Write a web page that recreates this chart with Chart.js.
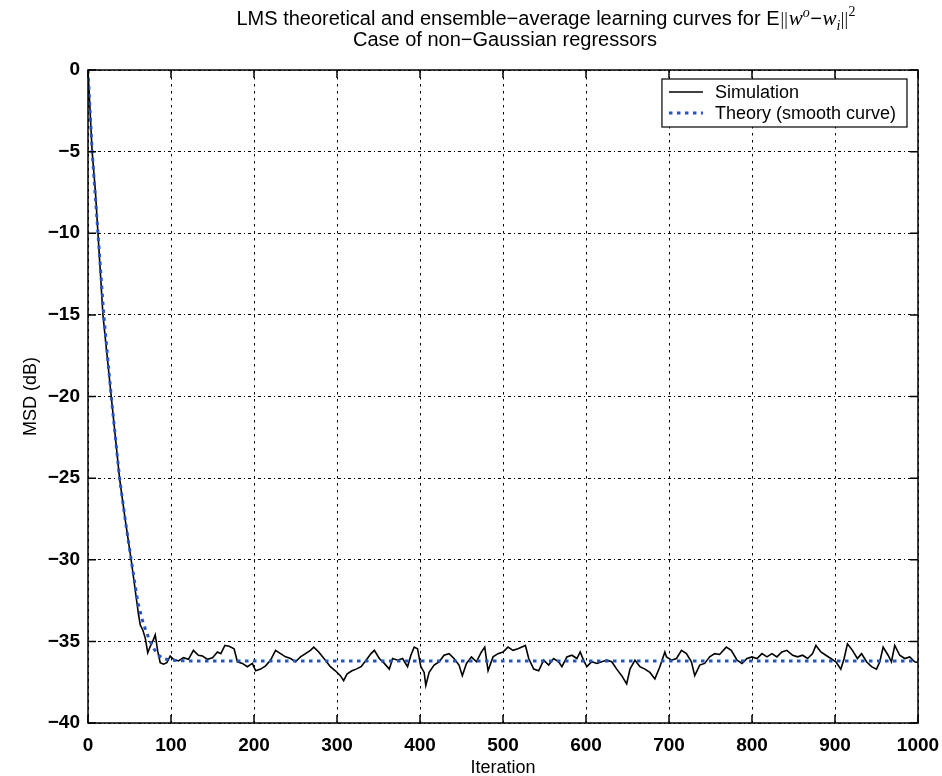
<!DOCTYPE html>
<html>
<head>
<meta charset="utf-8">
<script src="https://cdn.jsdelivr.net/npm/chart.js@4.4.1/dist/chart.umd.min.js"></script>
<style>
  html, body { margin: 0; padding: 0; background: #fff; }
</style>
</head>
<body>
<canvas id="lms" width="942" height="776"></canvas>
<script>
const simIter = [0, 3, 5, 9, 12, 15, 18, 23, 28, 33, 38, 45, 52, 57, 61, 63, 66, 69, 72, 75, 78, 81, 84, 87, 91, 95,
  99, 103, 109, 115, 121, 127, 133, 138, 144, 150, 156, 160, 165, 170, 176, 180, 186, 192, 198, 202, 208, 214, 220,
  226, 232, 238, 244, 250, 256, 262, 268, 272, 278, 286, 292, 298, 304, 308, 312, 318, 323, 329, 335, 341, 345, 351,
  357, 363, 367, 373, 379, 385, 389, 393, 397, 401, 405, 407, 411, 417, 423, 429, 435, 441, 447, 451, 456, 462, 468,
  474, 478, 482, 488, 494, 500, 506, 512, 518, 527, 531, 537, 543, 549, 555, 561, 567, 571, 577, 583, 589, 593, 597,
  601, 607, 613, 619, 625, 631, 637, 643, 649, 653, 659, 665, 671, 677, 683, 689, 695, 697, 703, 709, 715, 721, 727,
  731, 737, 743, 749, 755, 761, 769, 775, 782, 788, 794, 800, 806, 812, 818, 824, 830, 836, 842, 849, 855, 861, 867,
  873, 877, 883, 889, 895, 901, 907, 911, 915, 921, 927, 932, 938, 944, 950, 954, 958, 964, 968, 972, 978, 984, 990,
  996, 1000];
const simMsd = [0, -3, -5, -7.5, -10, -12.5, -15, -17.5, -20, -22.5, -25, -27.6, -30, -31.9, -33.4, -34.0, -34.3,
  -34.8, -35.7, -35.3, -35.0, -34.6, -35.6, -36.3, -36.4, -36.3,
  -35.9, -36.1, -36.2, -36.0, -36.1, -35.55, -35.85, -35.9, -36.1, -36.0, -35.65, -35.75, -35.25, -35.3, -35.45,
  -36.25, -36.35, -36.55, -36.35, -36.8, -36.7, -36.5, -36.15, -35.55, -35.75, -35.95, -36.05, -36.25, -35.95,
  -35.75, -35.55, -35.35, -35.65, -36.15, -36.55, -36.8, -37.1, -37.4, -37.0, -36.8, -36.7, -36.55, -36.15, -35.75,
  -35.55, -36.05, -36.35, -36.7, -36.05, -36.15, -36.05, -36.55, -35.85, -35.35, -35.45, -36.55, -36.9, -37.7,
  -36.9, -36.45, -36.25, -35.85, -35.75, -36.05, -36.45, -37.1, -36.35, -35.95, -36.25, -35.65, -35.35, -36.8,
  -35.95, -35.75, -35.65, -35.35, -35.55, -35.45, -35.25, -36.05, -36.7, -36.8, -36.15, -36.45, -36.05, -36.25,
  -36.55, -35.95, -35.85, -36.05, -35.65, -36.15, -36.55, -36.25, -36.35, -36.25, -36.15, -36.25, -36.7, -37.1,
  -37.6, -36.7, -36.15, -36.55, -36.7, -36.9, -37.3, -36.55, -35.65, -35.95, -36.15, -36.05, -35.55, -35.75,
  -36.25, -37.1, -36.45, -36.35, -35.95, -35.75, -35.8, -35.35, -35.55, -36.15, -36.35, -36.05, -35.95, -36.05,
  -35.75, -35.95, -35.75, -35.95, -35.65, -35.55, -35.85, -35.95, -35.85, -36.05, -35.75, -35.25, -35.65, -35.85,
  -36.05, -36.25, -36.7, -36.05, -35.15, -35.55, -36.05, -35.75, -36.25, -36.55, -36.7, -36.25, -35.35, -35.85,
  -36.25, -35.25, -35.85, -36.05, -35.95, -36.25, -36.3];

const theoryIter = [0, 5, 12, 19, 28, 38, 45, 52, 60, 65, 70, 75, 80, 85, 90, 100, 120, 1000];
const theoryMsd = [0, -5, -10, -15, -20, -25, -27.6, -30, -32.6, -33.6, -34.4, -35.0, -35.5, -35.85, -36.05,
  -36.15, -36.2, -36.2];

const xTicks = [0, 100, 200, 300, 400, 500, 600, 700, 800, 900, 1000];
const yTicks = [0, -5, -10, -15, -20, -25, -30, -35, -40];

const FONT = "'Liberation Sans', Arial, Helvetica, sans-serif";
const SERIF = "'Liberation Serif', 'Times New Roman', serif";
const theoryBlue = '#2753c4';
const fmt = v => (v < 0 ? '\u2212' + Math.abs(v) : String(v));

// MATLAB style box: frame plus inward ticks on all four sides
const boxFrame = {
  id: 'boxFrame',
  afterDatasetsDraw(chart) {
    const { ctx, chartArea: a, scales: { x, y } } = chart;
    ctx.save();
    ctx.strokeStyle = '#000';
    ctx.lineWidth = 1.5;
    ctx.strokeRect(a.left, a.top, a.right - a.left, a.bottom - a.top);
    ctx.beginPath();
    const len = 8;
    x.ticks.forEach(t => {
      const px = x.getPixelForValue(t.value);
      ctx.moveTo(px, a.bottom); ctx.lineTo(px, a.bottom - len);
      ctx.moveTo(px, a.top); ctx.lineTo(px, a.top + len);
    });
    y.ticks.forEach(t => {
      const py = y.getPixelForValue(t.value);
      ctx.moveTo(a.left, py); ctx.lineTo(a.left + len, py);
      ctx.moveTo(a.right, py); ctx.lineTo(a.right - len, py);
    });
    ctx.stroke();
    ctx.restore();
  }
};

// legend box in the upper right corner of the axes
const boxLegend = {
  id: 'boxLegend',
  afterDraw(chart) {
    const { ctx, chartArea: a } = chart;
    const ds = chart.data.datasets;
    ctx.save();
    ctx.font = '18px ' + FONT;
    const textW = Math.max(...ds.map(d => ctx.measureText(d.label).width));
    const w = 53 + textW + 11;
    const h = 48;
    const bx = a.right - 11 - w;
    const by = a.top + 9;
    ctx.fillStyle = '#fff';
    ctx.fillRect(bx, by, w, h);
    ctx.strokeStyle = '#000';
    ctx.lineWidth = 1.2;
    ctx.strokeRect(bx, by, w, h);
    ds.forEach((d, i) => {
      const cy = by + 13 + i * 21;
      ctx.beginPath();
      ctx.strokeStyle = d.borderColor;
      ctx.lineWidth = d.borderWidth;
      ctx.setLineDash(d.borderDash || []);
      ctx.moveTo(bx + 7, cy);
      ctx.lineTo(bx + 41, cy);
      ctx.stroke();
      ctx.setLineDash([]);
      ctx.fillStyle = '#000';
      ctx.textBaseline = 'middle';
      ctx.fillText(d.label, bx + 53, cy + 1);
    });
    ctx.restore();
  }
};

// two line title with the TeX part E||w^o - w_i||^2
const texTitle = {
  id: 'texTitle',
  afterDraw(chart) {
    const { ctx, chartArea: a } = chart;
    const mid = (a.left + a.right) / 2;
    const base1 = 25, base2 = 46;
    const reg = '20px ' + FONT;
    const it = 'italic 21px ' + SERIF;
    const sm = 'italic 14px ' + SERIF;
    const parts = [
      { t: 'LMS theoretical and ensemble\u2212average learning curves for E', f: reg, dy: 0 },
      { t: '||', f: '18px ' + SERIF, dy: 0, gap: 2 },
      { t: 'w', f: it, dy: 0 },
      { t: 'o', f: sm, dy: -8 },
      { t: '\u2212', f: reg, dy: 0, gap: 1 },
      { t: 'w', f: it, dy: 0 },
      { t: 'i', f: sm, dy: 5 },
      { t: '||', f: '18px ' + SERIF, dy: 0, gap: 1 },
      { t: '2', f: '14px ' + SERIF, dy: -9 }
    ];
    ctx.save();
    ctx.fillStyle = '#000';
    ctx.textBaseline = 'alphabetic';
    let total = 0;
    parts.forEach(p => { ctx.font = p.f; p.w = ctx.measureText(p.t).width + (p.gap || 0); total += p.w; });
    let px = mid + 43 - total / 2;
    parts.forEach(p => { ctx.font = p.f; ctx.fillText(p.t, px + (p.gap || 0) / 2, base1 + p.dy); px += p.w; });
    ctx.font = reg;
    ctx.textAlign = 'center';
    ctx.fillText('Case of non\u2212Gaussian regressors', mid + 2, base2);
    ctx.restore();
  }
};

new Chart(document.getElementById('lms'), {
  type: 'line',
  data: {
    datasets: [
      {
        label: 'Simulation',
        data: simIter.map((v, i) => ({ x: v, y: simMsd[i] })),
        borderColor: '#000',
        borderWidth: 1.6,
        pointRadius: 0,
        tension: 0,
        order: 2
      },
      {
        label: 'Theory (smooth curve)',
        data: theoryIter.map((v, i) => ({ x: v, y: theoryMsd[i] })),
        borderColor: theoryBlue,
        borderWidth: 3,
        borderDash: [3.5, 4.5],
        borderCapStyle: 'butt',
        pointRadius: 0,
        tension: 0,
        order: 1
      }
    ]
  },
  options: {
    responsive: false,
    animation: false,
    devicePixelRatio: 1,
    layout: { padding: { top: 70, right: 24, left: 0, bottom: 0 } },
    plugins: {
      legend: { display: false },
      title: { display: false },
      tooltip: { enabled: false }
    },
    scales: {
      x: {
        type: 'linear',
        min: 0,
        max: 1000,
        afterBuildTicks: s => { s.ticks = xTicks.map(v => ({ value: v })); },
        afterFit: s => { s.height = 53; s.paddingLeft = 0; s.paddingRight = 0; },
        ticks: {
          color: '#000',
          padding: 11,
          maxRotation: 0,
          font: { family: FONT, size: 19, weight: 'bold' },
          callback: fmt
        },
        grid: { color: '#000', lineWidth: 1, drawTicks: false },
        border: { display: false, dash: [2.5, 4.5] },
        title: {
          display: true,
          text: 'Iteration',
          color: '#000',
          font: { family: FONT, size: 18 },
          padding: { top: 0, bottom: -3 }
        }
      },
      y: {
        type: 'linear',
        min: -40,
        max: 0,
        afterBuildTicks: s => { s.ticks = yTicks.map(v => ({ value: v })); },
        afterFit: s => { s.width = 88; s.paddingTop = 0; s.paddingBottom = 0; },
        ticks: {
          color: '#000',
          padding: 8,
          font: { family: FONT, size: 19, weight: 'bold' },
          callback: fmt
        },
        grid: { color: '#000', lineWidth: 1, drawTicks: false },
        border: { display: false, dash: [3, 3, 1, 3] },
        title: {
          display: true,
          text: 'MSD (dB)',
          color: '#000',
          font: { family: FONT, size: 18 },
          padding: { top: 20, bottom: 0 }
        }
      }
    }
  },
  plugins: [boxFrame, boxLegend, texTitle]
});
</script>
</body>
</html>
